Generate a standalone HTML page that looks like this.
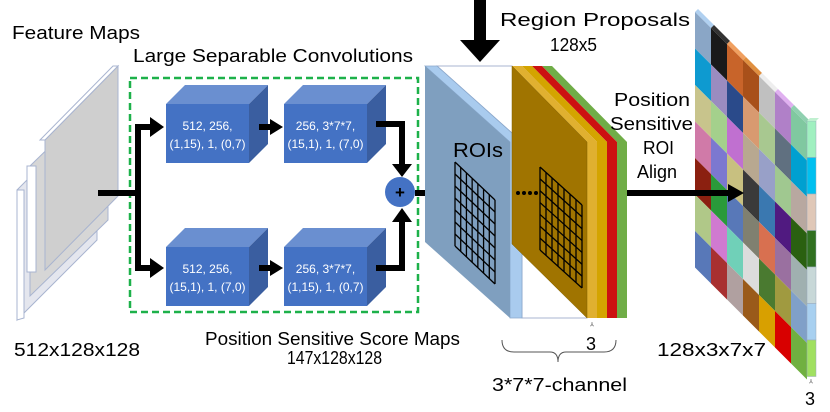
<!DOCTYPE html>
<html><head><meta charset="utf-8"><style>
html,body{margin:0;padding:0;background:#fff;}
svg{display:block;font-family:"Liberation Sans",sans-serif;}
</style></head><body>
<svg id="s" width="830" height="412" viewBox="0 0 830 412" xmlns="http://www.w3.org/2000/svg">
<!-- feature maps -->
<polygon points="17,190 97,110 97,240 17,320" fill="#e4e6ee" stroke="#a8b4d0"/>
<polygon points="24,190 24,318 17,320 17,190" fill="#fff" stroke="#a8b4d0"/>
<polygon points="30,166 108,90 108,220 30,296" fill="#d6d6d6" stroke="#a8b4d0"/>
<polygon points="27,166 36,166 36,272 27,272" fill="#fff" stroke="#a8b4d0"/>
<polygon points="45,140 118,66 118,196 45,270" fill="#cfcfcf" stroke="#a8b4d0"/>
<polygon points="40,140 45,140 118,66 113,66" fill="#fff" stroke="#a8b4d0"/>
<g font-size="18">
<text x="12" y="39" textLength="128" lengthAdjust="spacingAndGlyphs">Feature Maps</text>
<text x="14" y="356" textLength="126" lengthAdjust="spacingAndGlyphs">512x128x128</text>
<text x="133" y="62" textLength="280" lengthAdjust="spacingAndGlyphs">Large Separable Convolutions</text>
</g>
<rect x="130" y="78" width="288" height="234" fill="none" stroke="#1db14a" stroke-width="2.5" stroke-dasharray="7,4"/>
<g id="cubes"></g>
<g id="rg"></g>
<g stroke="#000" stroke-width="6" fill="none">
<path d="M98,193 H138"/>
<path d="M138,124 V271"/>
<path d="M135,127 H152"/>
<path d="M135,268 H152"/>
<path d="M259,127 H272"/>
<path d="M259,268 H272"/>
<path d="M376,124 H402 V166"/>
<path d="M376,268 H402 V222"/>
<path d="M415,193 H440"/>
<path d="M617,193 H730"/>
<path d="M480,0 V40" stroke-width="12"/>
</g>
<g fill="#000">
<polygon points="150,117 164,127 150,137"/>
<polygon points="150,258 164,268 150,278"/>
<polygon points="270,119 283,127 270,135"/>
<polygon points="270,260 283,268 270,276"/>
<polygon points="392,164 402,177 412,164"/>
<polygon points="392,222 402,208 412,222"/>
<polygon points="438,184 452,193 438,202"/>
<polygon points="728,184 744,193 728,202"/>
<polygon points="460,40 500,40 480,62"/>
</g>
<circle cx="400" cy="192" r="15" fill="#4472c4"/>
<text x="400" y="198" font-size="17" text-anchor="middle" font-weight="bold">+</text>
<g font-size="18">
<text x="205" y="345" textLength="255" lengthAdjust="spacingAndGlyphs">Position Sensitive Score Maps</text>
<text x="287" y="364" textLength="95" lengthAdjust="spacingAndGlyphs">147x128x128</text>
</g>
<!-- ROIs -->
<polygon points="437,66 512,66 587,142 587,318 522,318 522,142" fill="#fff" stroke="#a8b4d0"/>
<polygon points="425,66 437,66 522,142 522,318 510,318 510,142" fill="#a9cbee" stroke="#8aa8cc" stroke-width="0.8"/>
<polygon points="425,66 510,142 510,318 425,242" fill="#7f9fbf"/>
<polygon points="542,66 552,66 627,142 627,318 617,318 617,142" fill="#70ad47"/>
<polygon points="532,66 542,66 617,142 617,318 607,318 607,142" fill="#cc1111"/>
<polygon points="522,66 532,66 607,142 607,318 597,318 597,142" fill="#d4a400"/>
<polygon points="512,66 522,66 597,142 597,318 587,318 587,142" fill="#e0b030"/>
<polygon points="512,66 587,142 587,318 512,244" fill="#a07400" stroke="#806000" stroke-width="0.5"/>
<text x="453" y="157" font-size="20" textLength="50" lengthAdjust="spacingAndGlyphs">ROIs</text>
<g id="grids" stroke="#000" stroke-width="1.3" fill="none"></g>
<g fill="#000"><circle cx="518" cy="193" r="2"/><circle cx="524" cy="193" r="2"/><circle cx="530" cy="193" r="2"/><circle cx="536" cy="193" r="2"/></g>
<g font-size="18">
<text x="500" y="26" textLength="190" lengthAdjust="spacingAndGlyphs">Region Proposals</text>
<text x="550" y="51" textLength="47" lengthAdjust="spacingAndGlyphs">128x5</text>
<text x="614" y="106" textLength="76" lengthAdjust="spacingAndGlyphs">Position</text>
<text x="610" y="130" textLength="83" lengthAdjust="spacingAndGlyphs">Sensitive</text>
<text x="643" y="154" textLength="31" lengthAdjust="spacingAndGlyphs">ROI</text>
<text x="637" y="178" textLength="40" lengthAdjust="spacingAndGlyphs">Align</text>
<text x="586" y="350">3</text>
<text x="492" y="391" textLength="135" lengthAdjust="spacingAndGlyphs">3*7*7-channel</text>
<text x="657" y="356" textLength="109" lengthAdjust="spacingAndGlyphs">128x3x7x7</text>
<text x="805" y="405">3</text>
</g>
<path d="M592,322 q0,4 -2,4 M592,322 q0,4 2,4" stroke="#888" fill="none" stroke-width="0.8"/>
<path d="M502,340 q0,12 12,12 h36 q8,0 8,10 q0,-10 8,-10 h38 q12,0 12,-12" stroke="#555" fill="none" stroke-width="1"/>
</svg>
<script>
var NS="http://www.w3.org/2000/svg";
function el(p,t,a){var e=document.createElementNS(NS,t);for(var k in a)e.setAttribute(k,a[k]);p.appendChild(e);return e;}
var cg=document.getElementById('cubes');
var cubes=[[166,104,"512, 256,","(1,15), 1, (0,7)"],[284,104,"256, 3*7*7,","(15,1), 1, (7,0)"],[166,247,"512, 256,","(15,1), 1, (7,0)"],[284,247,"256, 3*7*7,","(1,15), 1, (0,7)"]];
cubes.forEach(function(c){var x=c[0],y=c[1],w=83,h=59,d=19;
el(cg,'polygon',{points:[x,y,x+d,y-d,x+w+d,y-d,x+w,y].join(' '),fill:'#6a8fd0'});
el(cg,'polygon',{points:[x+w,y,x+w+d,y-d,x+w+d,y+h-d,x+w,y+h].join(' '),fill:'#3a5ea0'});
el(cg,'rect',{x:x,y:y,width:w,height:h,fill:'#4472c4'});
var t=el(cg,'text',{x:x+w/2,y:y+26,'font-size':12,fill:'#fff','text-anchor':'middle'});t.textContent=c[2];
t=el(cg,'text',{x:x+w/2,y:y+44,'font-size':12,fill:'#fff','text-anchor':'middle'});t.textContent=c[3];});
var gg=document.getElementById('grids');
function grid(x0,y0,x1,yr,ht){var w=x1-x0,sl=(yr-y0)/w;
for(var i=0;i<=7;i++){var x=x0+w*i/7,y=y0+sl*w*i/7;el(gg,'line',{x1:x,y1:y,x2:x,y2:y+ht});}
for(var j=0;j<=7;j++){var yy=y0+ht*j/7;el(gg,'line',{x1:x0,y1:yy,x2:x1,y2:yy+sl*w});}}
grid(455,162,495,200,84);grid(540,167,582,205,83);
var cols=[["#8aa6c6","#0e9ad0","#c8c48c","#d07aa8","#8b2010","#b0c888","#5878b8"],
["#1a1a1a","#9a8cc0","#a4d08c","#7c78d0","#2a9a3a","#d07ad0","#a83030"],
["#c8642a","#2a4a8a","#c070d0","#c8c080","#5878b8","#70d0b8","#b0a0a0"],
["#a8501a","#d89a70","#b8a890","#3a3a3a","#808070","#dcdcdc","#9a5a1a"],
["#c0c0c0","#a8c890","#98a0c8","#3a78b0","#d87050","#4a7a30","#d8a000"],
["#b080c8","#607080","#a0c890","#501a80","#9a70a0","#a09a40","#d80000"],
["#80c8a0","#00a0d0","#b8a8a0","#2a6010","#a0b0b0","#80a0c8","#70b040"]];
var side=["#a0f0c0","#00c0f0","#e0c8b8","#307020","#c8d8d8","#a8d0f0","#a0e060"];
var tops=['#b0d0f0','#333','#f0a060','#e09040','#eeeeee','#e0b0f0','#90d0b0'];
var rg=document.getElementById('rg'),cw=16,ch=36.5;
for(var i=0;i<7;i++){var x=695+cw*i,y=12+cw*i;
el(rg,'polygon',{points:[x,y,x+3,y-3,x+cw+3,y+cw-3,x+cw,y+cw].join(' '),fill:tops[i]});
for(var j=0;j<7;j++){var yy=y+ch*j;
el(rg,'polygon',{points:[x,yy,x+cw,yy+cw,x+cw,yy+cw+ch,x,yy+ch].join(' '),fill:cols[i][j]});}}
for(var j=0;j<7;j++){el(rg,'rect',{x:807,y:121+ch*j,width:9,height:ch,fill:side[j],stroke:'#9ab','stroke-width':0.5});}
el(rg,'polygon',{points:"807,121 810,118 819,118 816,121",fill:'#c0f0d0'});
el(rg,'path',{d:"M811,379 q0,4 -2,4 M811,379 q0,4 2,4",stroke:'#888',fill:'none','stroke-width':0.8});
</script>
</body></html>
